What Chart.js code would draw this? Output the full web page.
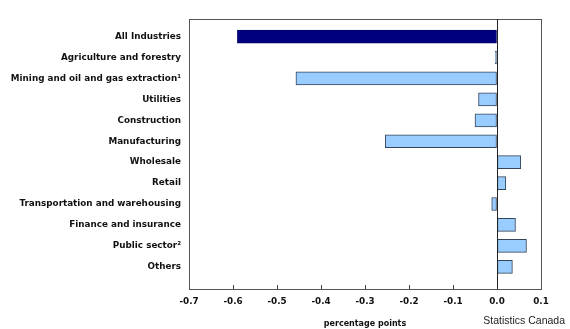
<!DOCTYPE html>
<html lang="en">
<head>
  <meta charset="UTF-8" />
  <title>Contribution to change by industry</title>
  <style>
    * { box-sizing: border-box; }
    body { margin: 0; background: #fff; }
    .wrap { position: relative; width: 570px; height: 329px; }
    .source {
      position: absolute;
      right: 5px;
      top: 314px;
      font-family: "Liberation Sans", Arial, sans-serif;
      font-size: 10.5px;
      color: #222;
    }
  </style>
</head>
<body>
  <div class="wrap">
    <canvas id="grafico" width="570" height="329"></canvas>
    <div class="source">Statistics Canada</div>
  </div>

  <script src="https://cdn.jsdelivr.net/npm/chart.js"></script>
  <script>
    const industries = [
      'All Industries',
      'Agriculture and forestry',
      'Mining and oil and gas extraction\u00B9',
      'Utilities',
      'Construction',
      'Manufacturing',
      'Wholesale',
      'Retail',
      'Transportation and warehousing',
      'Finance and insurance',
      'Public sector\u00B2',
      'Others'
    ];
    const contributions = [-0.59, -0.004, -0.457, -0.042, -0.05, -0.254, 0.054, 0.02, -0.012, 0.042, 0.067, 0.035];
    const xTicks = [-0.7, -0.6, -0.5, -0.4, -0.3, -0.2, -0.1, 0.0, 0.1];

    const fillColors = industries.map((_, i) => i === 0 ? '#00007f' : '#99ccff');
    const lineColors = industries.map((_, i) => i === 0 ? '#00006a' : '#34455a');

    // plot outline, zero line and the small inward ticks on the bottom axis
    const frame = {
      id: 'frame',
      afterDatasetsDraw(chart) {
        const { ctx, chartArea: a, scales } = chart;
        ctx.save();
        ctx.lineWidth = 1;
        ctx.strokeStyle = '#444';
        ctx.beginPath();
        xTicks.forEach(v => {
          const x = Math.round(scales.x.getPixelForValue(v)) + 0.5;
          ctx.moveTo(x, a.bottom);
          ctx.lineTo(x, a.bottom - 4);
        });
        ctx.stroke();
        ctx.strokeStyle = '#555';
        ctx.strokeRect(a.left + 0.5, a.top + 0.5, a.right - a.left, a.bottom - a.top);
        const x0 = Math.round(scales.x.getPixelForValue(0)) + 0.5;
        ctx.strokeStyle = '#222';
        ctx.beginPath();
        ctx.moveTo(x0, a.top);
        ctx.lineTo(x0, a.bottom);
        ctx.stroke();
        ctx.restore();
      }
    };

    new Chart(document.getElementById('grafico'), {
      type: 'bar',
      data: {
        datasets: [{
          data: contributions.map((v, i) => ({ x: v, y: i })),
          backgroundColor: fillColors,
          borderColor: lineColors,
          borderWidth: 1,
          borderSkipped: false,
          barThickness: 13
        }]
      },
      options: {
        indexAxis: 'y',
        responsive: false,
        animation: false,
        layout: { padding: { top: 19, right: 29, left: 0, bottom: 0 } },
        plugins: {
          legend: { display: false },
          tooltip: { enabled: false }
        },
        scales: {
          x: {
            type: 'linear',
            min: -0.7,
            max: 0.1,
            afterBuildTicks(scale) {
              scale.ticks = xTicks.map(v => ({ value: v }));
            },
            afterFit(scale) { scale.height = 40; },
            grid: { drawOnChartArea: false, drawTicks: false },
            border: { display: true, color: '#555' },
            ticks: {
              color: '#111',
              padding: 7,
              font: { family: 'DejaVu Sans', size: 8.8, weight: 'bold' },
              callback: v => v.toFixed(1)
            },
            title: {
              display: true,
              text: 'percentage points',
              color: '#111',
              padding: { top: 8, bottom: 0 },
              font: { family: 'DejaVu Sans', size: 8, weight: 'bold' }
            }
          },
          y: {
            type: 'linear',
            reverse: true,
            offset: false,
            min: -0.84,
            max: 12.06,
            afterBuildTicks(scale) {
              scale.ticks = industries.map((_, i) => ({ value: i }));
            },
            afterFit(scale) { scale.width = 189; },
            grid: { display: false, drawTicks: false },
            border: { display: true, color: '#555' },
            ticks: {
              color: '#111',
              padding: 8,
              autoSkip: false,
              callback: v => industries[v],
              font: ctx => ({
                family: 'DejaVu Sans',
                size: 8.8,
                weight: ctx.tick && ctx.tick.value === 0 ? '900' : 'bold'
              })
            }
          }
        }
      },
      plugins: [frame]
    });
  </script>
</body>
</html>
